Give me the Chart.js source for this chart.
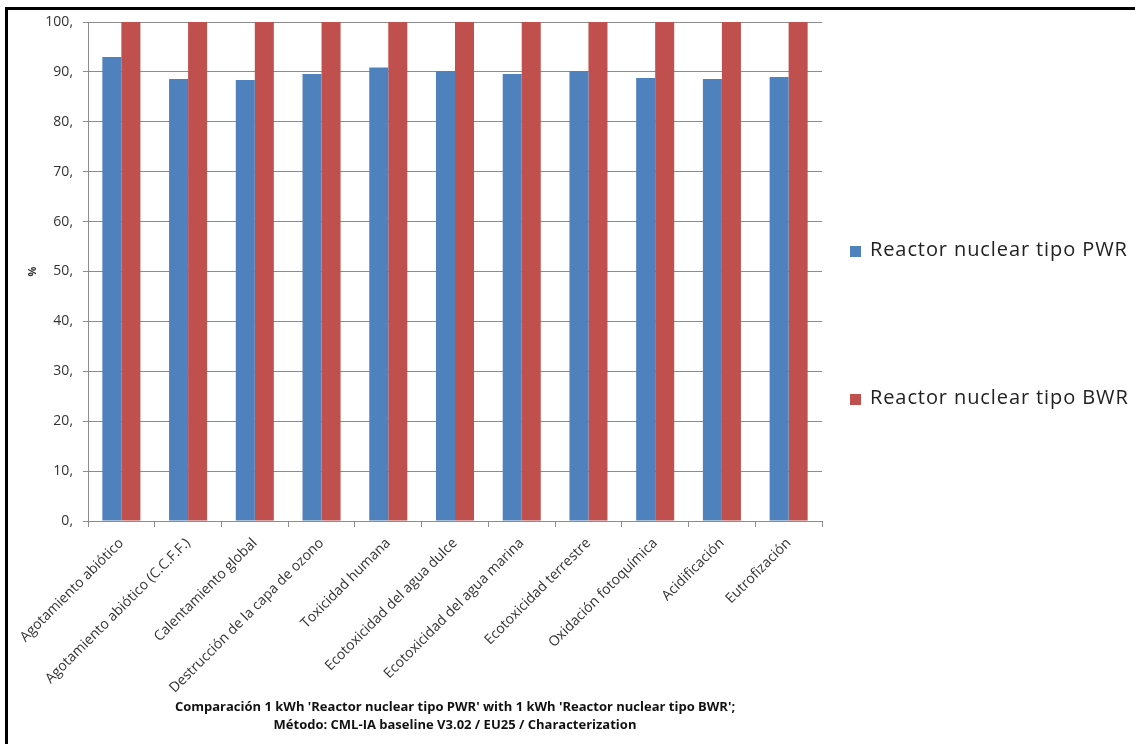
<!DOCTYPE html>
<html>
<head>
<meta charset="utf-8">
<script src="https://cdn.jsdelivr.net/npm/chart.js@4"></script>
<style>
  body { margin: 0; background: #fff; }
  #wrap { position: relative; width: 1135px; height: 744px; overflow: hidden; }
  #marco { position: absolute; left: 5px; top: 7px; right: -10px; bottom: -10px;
           border-top: 3px solid #000; border-left: 3px solid #000; pointer-events: none; }
</style>
</head>
<body>
<div id="wrap">
  <canvas id="grafico" width="1135" height="744"></canvas>
  <div id="marco"></div>
</div>
<script>
// Categorías de impacto
const categorias = [
    'Agotamiento abiótico',
    'Agotamiento abiótico (C.C.F.F.)',
    'Calentamiento global',
    'Destrucción de la capa de ozono',
    'Toxicidad humana',
    'Ecotoxicidad del agua dulce',
    'Ecotoxicidad del agua marina',
    'Ecotoxicidad terrestre',
    'Oxidación fotoquímica',
    'Acidificación',
    'Eutrofización'
];

// Valores (%)
const valoresPWR = [93.0, 88.6, 88.4, 89.6, 90.9, 90.2, 89.6, 90.2, 88.8, 88.6, 89.0];
const valoresBWR = [100, 100, 100, 100, 100, 100, 100, 100, 100, 100, 100];

// Ticks del eje Y
const ticksY = [0, 10, 20, 30, 40, 50, 60, 70, 80, 90, 100];

const tituloInferior = [
    "Comparación 1 kWh 'Reactor nuclear tipo PWR' with 1 kWh 'Reactor nuclear tipo BWR';",
    'Método: CML-IA baseline V3.02 / EU25 / Characterization'
];

const fuente = "'Open Sans', 'Noto Sans', sans-serif";

// Leyenda a la derecha, dibujada a mano
const leyendaDerecha = {
    id: 'leyendaDerecha',
    afterDraw(chart) {
        const ctx = chart.ctx;
        const posY = [250, 398];
        ctx.save();
        ctx.font = '20px ' + fuente;
        ctx.letterSpacing = '0.9px';
        ctx.textBaseline = 'middle';
        chart.data.datasets.forEach((ds, i) => {
            ctx.fillStyle = ds.backgroundColor;
            ctx.fillRect(850, posY[i] - 4, 11, 11);
            ctx.fillStyle = '#222';
            ctx.fillText(ds.label, 870, posY[i]);
        });
        ctx.restore();
    }
};

new Chart(document.getElementById('grafico'), {
    type: 'bar',
    data: {
        labels: categorias,
        datasets: [{
            label: 'Reactor nuclear tipo PWR',
            data: valoresPWR,
            backgroundColor: '#4F81BD',
            categoryPercentage: 0.57,
            barPercentage: 1
        }, {
            label: 'Reactor nuclear tipo BWR',
            data: valoresBWR,
            backgroundColor: '#C0504D',
            categoryPercentage: 0.57,
            barPercentage: 1
        }]
    },
    options: {
        responsive: false,
        animation: false,
        layout: { padding: { left: 26, right: 313, top: 22, bottom: 6 } },
        plugins: {
            legend: { display: false },
            tooltip: { enabled: false }
        },
        scales: {
            y: {
                min: 0,
                max: 100,
                afterFit: (s) => { s.width = 62; },
                afterBuildTicks: (s) => { s.ticks = ticksY.map(v => ({ value: v })); },
                ticks: {
                    color: '#333',
                    font: { family: fuente, size: 14 },
                    padding: 10,
                    callback: (v) => v + ','
                },
                grid: { color: '#8c8c8c', tickLength: 5 },
                border: { color: '#8c8c8c' },
                title: {
                    display: true,
                    text: '%',
                    color: '#333',
                    font: { family: fuente, size: 11, weight: 'bold' },
                    padding: 0
                }
            },
            x: {
                afterFit: (s) => { s.height = 217; },
                ticks: {
                    color: '#333',
                    font: { family: fuente, size: 14 },
                    minRotation: 45,
                    maxRotation: 45,
                    padding: 8
                },
                grid: { offset: true, drawOnChartArea: false, color: '#8c8c8c', tickLength: 6 },
                border: { color: '#8c8c8c' },
                title: {
                    display: true,
                    text: tituloInferior,
                    color: '#111',
                    font: { family: fuente, size: 13, weight: 'bold', lineHeight: 1.35 },
                    padding: { top: 0, bottom: 4 }
                }
            }
        }
    },
    plugins: [leyendaDerecha]
});
</script>
</body>
</html>
